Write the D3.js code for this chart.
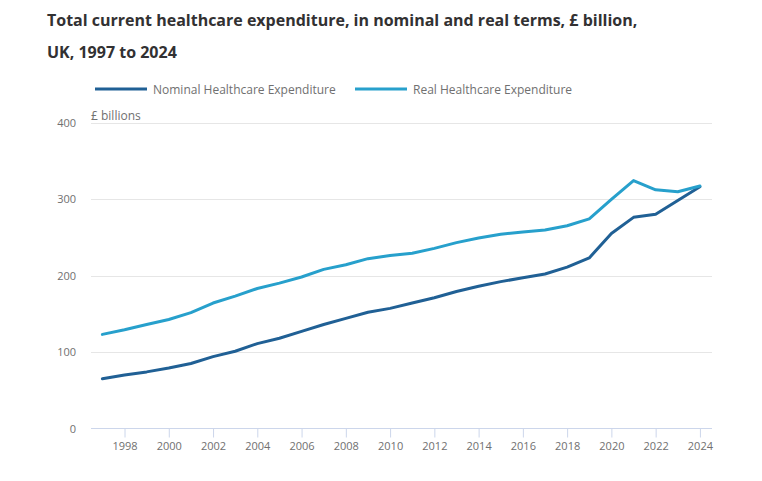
<!DOCTYPE html>
<html>
<head>
<meta charset="utf-8">
<script src="https://cdn.jsdelivr.net/npm/d3@7"></script>
<style>
  body { margin: 0; background: #fff; }
  svg { font-family: "Open Sans", sans-serif; }
</style>
</head>
<body>
<svg id="chart" width="762" height="481"></svg>
<script>
const years = d3.range(1997, 2025);
const nominal = [65, 70, 74, 79, 85, 94, 101, 111, 118, 127, 136, 144, 152, 157, 164, 171, 179, 186, 192, 197, 202, 211, 223, 255, 276, 280, 298, 316];
const real = [123, 129, 136, 142.5, 151.5, 164, 173, 183, 190, 198, 208, 214, 222, 226, 229, 235.5, 243, 249, 254, 257, 259.5, 265, 274, 299.5, 324, 312, 309.5, 317];
const yTicks = [0, 100, 200, 300, 400];
const xTicks = d3.range(1998, 2025, 2);
const seriesNames = ["Nominal Healthcare Expenditure", "Real Healthcare Expenditure"];
const colors = ["#206095", "#27a0cc"];

const svg = d3.select("#chart");
const pLeft = 91, pRight = 712, pTop = 122.5, pBottom = 428.5;

const x = d3.scaleLinear()
  .domain([1997 - (102.4 - pLeft) / 22.13, 1997 + (pRight - 102.4) / 22.13])
  .range([pLeft, pRight]);
const y = d3.scaleLinear().domain([0, 400]).range([pBottom, pTop]);

// title
svg.append("text").attr("x", 47).attr("y", 26)
  .attr("font-size", 16).attr("font-weight", 700).attr("fill", "#323132")
  .text("Total current healthcare expenditure, in nominal and real terms, £ billion,");
svg.append("text").attr("x", 47).attr("y", 58)
  .attr("font-size", 16).attr("font-weight", 700).attr("fill", "#323132")
  .text("UK, 1997 to 2024");

// legend
const legX = [95, 355];
seriesNames.forEach((n, i) => {
  const g = svg.append("g");
  g.append("line").attr("x1", legX[i]).attr("x2", legX[i] + 52)
    .attr("y1", 89).attr("y2", 89).attr("stroke", colors[i]).attr("stroke-width", 3);
  g.append("text").attr("x", legX[i] + 58).attr("y", 93.5)
    .attr("font-size", 12).attr("fill", "#707070").text(n);
});

// gridlines
svg.append("g").selectAll("line").data(yTicks.filter(d => d > 0)).join("line")
  .attr("x1", pLeft).attr("x2", pRight)
  .attr("y1", d => Math.round(y(d)) + 0.5).attr("y2", d => Math.round(y(d)) + 0.5)
  .attr("stroke", "#e6e6e6").attr("stroke-width", 1);

// y axis labels
svg.append("g").selectAll("text").data(yTicks).join("text")
  .attr("x", 76).attr("y", d => y(d) + 4)
  .attr("text-anchor", "end").attr("font-size", 11).attr("fill", "#707070")
  .text(d => d);

svg.append("text").attr("x", 91).attr("y", 119.5)
  .attr("font-size", 12).attr("fill", "#707070").text("£ billions");

// x axis
const xAxis = d3.axisBottom(x).tickValues(xTicks).tickFormat(d3.format("d")).tickSize(9).tickPadding(5);
const gx = svg.append("g").attr("transform", `translate(0,${pBottom})`).call(xAxis);
gx.select(".domain").attr("stroke", "#ccd6eb").attr("d", `M${pLeft},0H${pRight}`);
gx.selectAll(".tick line").attr("stroke", "#ccd6eb");
gx.selectAll(".tick text").attr("font-size", 11).attr("fill", "#707070").attr("font-family", "Open Sans, sans-serif");

// lines
const line = d3.line().x((d, i) => x(years[i])).y(d => y(d));
[nominal, real].forEach((s, i) => {
  svg.append("path").datum(s).attr("d", line)
    .attr("fill", "none").attr("stroke", colors[i]).attr("stroke-width", 3)
    .attr("stroke-linejoin", "round").attr("stroke-linecap", "round");
});
</script>
</body>
</html>
